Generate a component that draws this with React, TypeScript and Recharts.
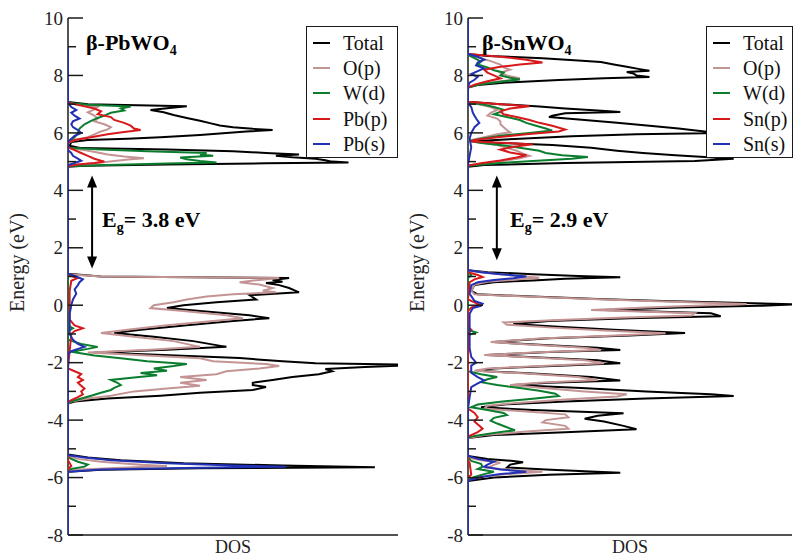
import { Legend, ReferenceLine, Scatter, ScatterChart, XAxis, YAxis } from "recharts";

// --- Data: [energy (eV), DOS (arb. units)] ---

const pbTotal: [number, number][] = [
  [9, 0], [7.08, 0], [7.0, 0.6], [6.93, 3.6], [6.86, 3.0], [6.8, 2.5], [6.72, 2.9], [6.62, 3.2],
  [6.52, 3.6], [6.42, 4.0], [6.34, 4.3], [6.26, 4.6], [6.2, 5.0], [6.14, 5.6], [6.1, 6.2], [6.05, 5.4],
  [5.98, 4.6], [5.93, 4.0], [5.85, 2.8], [5.8, 1.8], [5.75, 0.6], [5.68, 0.1], [5.55, 0.05], [5.47, 0.4],
  [5.42, 3.0], [5.36, 5.0], [5.3, 6.0], [5.25, 7.0], [5.2, 6.3], [5.15, 6.8], [5.1, 7.5], [5.05, 7.8],
  [5.0, 8.0], [4.97, 8.5], [4.94, 6.0], [4.9, 3.0], [4.86, 0.5], [4.82, 0],
  [1.1, 0], [1.0, 1.0], [0.95, 6.7], [0.88, 6.2], [0.82, 6.5], [0.77, 6.0], [0.7, 6.4], [0.6, 6.7],
  [0.5, 6.9], [0.45, 7.0], [0.35, 5.5], [0.2, 5.7], [0.1, 4.5], [0.0, 3.5], [-0.1, 3.0], [-0.2, 4.0],
  [-0.35, 5.5], [-0.45, 6.1], [-0.55, 5.0], [-0.7, 3.6], [-0.85, 2.2], [-0.97, 1.4], [-1.1, 2.6],
  [-1.25, 3.8], [-1.45, 4.8], [-1.55, 3.0], [-1.65, 0.8], [-1.72, 2.5], [-1.84, 5.2], [-1.95, 6.5],
  [-2.02, 7.5], [-2.08, 10.8], [-2.15, 9.0], [-2.22, 7.8], [-2.3, 8.0], [-2.4, 7.6], [-2.5, 6.8],
  [-2.6, 6.2], [-2.7, 5.6], [-2.78, 5.6], [-2.85, 6.0], [-2.95, 5.6], [-3.05, 4.0], [-3.15, 2.8],
  [-3.25, 1.2], [-3.35, 0.2], [-3.42, 0],
  [-5.2, 0], [-5.3, 0.6], [-5.4, 1.6], [-5.5, 3.5], [-5.58, 6.5], [-5.64, 9.3], [-5.68, 4.0],
  [-5.73, 1.0], [-5.8, 0], [-8, 0],
];

const pbOp: [number, number][] = [
  [9, 0], [7.05, 0], [6.98, 0.3], [6.9, 0.9], [6.82, 0.8], [6.72, 0.6], [6.6, 0.8], [6.5, 0.9],
  [6.4, 0.8], [6.3, 1.1], [6.2, 1.3], [6.12, 1.2], [6.05, 1.0], [5.95, 0.8], [5.85, 0.6], [5.75, 0.2],
  [5.65, 0], [5.47, 0], [5.4, 0.5], [5.32, 0.9], [5.25, 1.2], [5.18, 1.7], [5.12, 2.3], [5.08, 1.9],
  [5.02, 1.4], [4.95, 0.9], [4.9, 0.3], [4.84, 0],
  [1.08, 0], [1.0, 1.0], [0.95, 6.4], [0.88, 5.8], [0.8, 5.2], [0.72, 5.8], [0.6, 6.2], [0.5, 5.9],
  [0.45, 6.3], [0.38, 5.0], [0.3, 4.2], [0.2, 3.6], [0.1, 3.2], [0.0, 2.6], [-0.1, 2.5], [-0.2, 3.5],
  [-0.35, 4.8], [-0.45, 5.3], [-0.55, 4.4], [-0.7, 3.0], [-0.85, 1.8], [-0.97, 1.0], [-1.1, 2.0],
  [-1.25, 3.2], [-1.45, 4.0], [-1.55, 2.5], [-1.65, 0.6], [-1.75, 2.4], [-1.85, 4.0], [-1.95, 4.4],
  [-2.05, 6.0], [-2.12, 6.4], [-2.2, 5.8], [-2.3, 4.8], [-2.4, 4.5], [-2.5, 3.4], [-2.6, 4.2],
  [-2.7, 3.4], [-2.8, 4.0], [-2.9, 3.0], [-3.0, 2.0], [-3.15, 1.3], [-3.25, 0.6], [-3.35, 0.1],
  [-3.42, 0],
  [-5.25, 0], [-5.35, 0.3], [-5.45, 1.0], [-5.55, 2.2], [-5.6, 3.0], [-5.66, 1.6], [-5.72, 0.4],
  [-5.78, 0], [-8, 0],
];

const pbWd: [number, number][] = [
  [9, 0], [7.05, 0], [6.98, 0.6], [6.92, 1.9], [6.85, 1.6], [6.78, 1.7], [6.7, 1.3], [6.6, 1.1],
  [6.52, 0.9], [6.42, 0.7], [6.3, 0.5], [6.15, 0.35], [6.0, 0.3], [5.85, 0.2], [5.72, 0.05], [5.6, 0],
  [5.48, 0], [5.42, 1.0], [5.36, 2.4], [5.3, 4.2], [5.25, 4.0], [5.2, 4.4], [5.14, 3.4], [5.08, 3.6],
  [5.02, 4.0], [4.97, 4.5], [4.93, 3.0], [4.88, 1.2], [4.84, 0],
  [-0.7, 0], [-0.8, 0.15], [-0.9, 0],
  [-1.2, 0], [-1.35, 0.4], [-1.45, 0.9], [-1.52, 0.6], [-1.62, 0.1], [-1.75, 0.8], [-1.85, 1.6],
  [-1.95, 2.4], [-2.05, 3.6], [-2.12, 3.2], [-2.2, 2.6], [-2.28, 3.0], [-2.36, 2.2], [-2.44, 2.7],
  [-2.52, 2.0], [-2.6, 1.3], [-2.7, 1.5], [-2.78, 1.6], [-2.88, 1.4], [-2.95, 1.3], [-3.05, 1.0],
  [-3.15, 0.7], [-3.28, 0.3], [-3.38, 0],
  [-5.3, 0], [-5.45, 0.3], [-5.55, 0.6], [-5.62, 0.5], [-5.7, 0.1], [-5.75, 0], [-8, 0],
];

const pbPp: [number, number][] = [
  [9, 0], [7.05, 0], [6.95, 0.4], [6.85, 0.8], [6.75, 1.0], [6.65, 0.9], [6.55, 1.3], [6.45, 1.4],
  [6.35, 1.7], [6.25, 1.9], [6.15, 2.0], [6.1, 2.2], [6.03, 1.7], [5.95, 1.2], [5.85, 0.7], [5.75, 0.2],
  [5.65, 0], [5.5, 0], [5.4, 0.2], [5.3, 0.4], [5.2, 0.6], [5.1, 0.8], [5.0, 1.1], [4.95, 0.8],
  [4.9, 0.3], [4.84, 0],
  [1.05, 0], [0.95, 0.3], [0.85, 0.1], [0.5, 0.05], [-0.5, 0.05], [-0.7, 0.2], [-0.8, 0.45],
  [-0.9, 0.2], [-1.0, 0.1], [-2.2, 0], [-2.3, 0.2], [-2.4, 0.4], [-2.5, 0.3], [-2.6, 0.45],
  [-2.7, 0.3], [-2.8, 0.4], [-2.9, 0.5], [-3.0, 0.4], [-3.1, 0.45], [-3.2, 0.3], [-3.3, 0.1],
  [-3.38, 0],
  [-5.4, 0], [-5.6, 0.1], [-5.7, 0], [-8, 0],
];

const pbPs: [number, number][] = [
  [9, 0], [7.05, 0], [6.9, 0.1], [6.8, 0.25], [6.7, 0.1], [6.6, 0.2], [6.5, 0.35], [6.4, 0.15],
  [6.3, 0.1], [6.2, 0.15], [6.1, 0.3], [6.0, 0.4], [5.9, 0.2], [5.8, 0.1], [5.7, 0], [5.4, 0],
  [5.3, 0.1], [5.2, 0.15], [5.1, 0.3], [5.03, 0.4], [4.95, 0.2], [4.88, 0],
  [1.1, 0], [1.0, 0.25], [0.9, 0.45], [0.8, 0.35], [0.7, 0.3], [0.55, 0.2], [0.4, 0.25], [0.2, 0.15],
  [0.0, 0.1], [-0.3, 0.05], [-1.0, 0.05], [-1.2, 0.15], [-1.35, 0.3], [-1.45, 0.5], [-1.52, 0.3],
  [-1.6, 0.1], [-1.7, 0],
  [-5.22, 0], [-5.3, 0.5], [-5.4, 1.3], [-5.5, 3.0], [-5.58, 5.0], [-5.62, 6.6], [-5.67, 3.5],
  [-5.72, 1.0], [-5.8, 0], [-8, 0],
];

const snTotal: [number, number][] = [
  [10, 0], [8.75, 0], [8.68, 0.6], [8.6, 2.3], [8.52, 3.4], [8.47, 4.1], [8.38, 4.5], [8.3, 4.9],
  [8.22, 5.3], [8.16, 5.6], [8.12, 4.9], [8.07, 5.1], [8.0, 5.2], [7.95, 5.6], [7.9, 4.2], [7.84, 2.8],
  [7.75, 1.2], [7.67, 0.3], [7.58, 0],
  [7.08, 0], [7.0, 1.0], [6.92, 2.2], [6.85, 3.0], [6.78, 4.0], [6.73, 4.7], [6.68, 3.0], [6.6, 2.6],
  [6.55, 2.5], [6.45, 3.6], [6.35, 4.6], [6.25, 5.6], [6.15, 6.5], [6.05, 7.3], [6.0, 7.8], [5.95, 5.2],
  [5.88, 3.2], [5.8, 1.6], [5.72, 0.3], [5.66, 0.8], [5.58, 2.6], [5.48, 3.8], [5.38, 4.6], [5.3, 5.4],
  [5.22, 6.4], [5.16, 7.3], [5.1, 8.2], [5.02, 7.0], [4.95, 3.0], [4.88, 0.5], [4.82, 0],
  [1.22, 0], [1.15, 0.6], [1.08, 2.0], [1.02, 3.4], [0.97, 4.7], [0.92, 3.0], [0.86, 2.0], [0.8, 0.8],
  [0.7, 0.2], [0.5, 0.1], [0.38, 0.3], [0.3, 2.0], [0.22, 4.0], [0.15, 6.0], [0.08, 8.5], [0.03, 10.2],
  [-0.02, 9.0], [-0.08, 6.5], [-0.17, 4.2], [-0.28, 7.5], [-0.38, 7.8], [-0.45, 5.0], [-0.55, 2.5],
  [-0.65, 1.4], [-0.75, 2.8], [-0.85, 4.5], [-0.97, 6.7], [-1.05, 5.0], [-1.15, 2.5], [-1.28, 0.8],
  [-1.38, 2.2], [-1.48, 4.0], [-1.56, 4.7], [-1.63, 2.5], [-1.73, 0.6], [-1.82, 2.2], [-1.92, 4.0],
  [-2.02, 4.7], [-2.1, 3.0], [-2.2, 0.8], [-2.28, 0.3], [-2.38, 2.0], [-2.5, 3.8], [-2.62, 4.7],
  [-2.7, 2.5], [-2.78, 1.4], [-2.88, 3.5], [-3.0, 5.5], [-3.1, 7.5], [-3.16, 8.2], [-3.25, 5.5],
  [-3.35, 3.0], [-3.45, 1.2], [-3.55, 0.4], [-3.65, 2.0], [-3.76, 4.8], [-3.85, 4.0], [-3.95, 3.6],
  [-4.05, 4.2], [-4.2, 4.8], [-4.32, 5.2], [-4.42, 3.0], [-4.52, 0.8], [-4.62, 0],
  [-5.25, 0], [-5.35, 0.6], [-5.42, 1.4], [-5.47, 1.7], [-5.55, 1.3], [-5.65, 1.2], [-5.72, 2.4],
  [-5.78, 3.6], [-5.83, 4.7], [-5.9, 2.5], [-6.0, 0.8], [-6.12, 0], [-8, 0],
];

const snOp: [number, number][] = [
  [10, 0], [8.72, 0], [8.6, 0.4], [8.5, 0.7], [8.38, 1.0], [8.28, 1.1], [8.2, 1.3], [8.1, 1.0],
  [8.0, 1.2], [7.9, 1.6], [7.82, 1.2], [7.72, 0.4], [7.6, 0],
  [7.06, 0], [6.98, 0.4], [6.9, 0.7], [6.8, 0.9], [6.7, 0.7], [6.6, 0.6], [6.5, 0.9], [6.4, 1.0],
  [6.3, 1.0], [6.2, 1.1], [6.1, 1.2], [6.02, 1.3], [5.95, 0.9], [5.85, 0.5], [5.75, 0.1], [5.68, 0.3],
  [5.58, 0.9], [5.48, 1.2], [5.38, 1.5], [5.28, 1.7], [5.2, 1.9], [5.12, 1.6], [5.02, 1.1],
  [4.95, 0.6], [4.86, 0],
  [1.2, 0], [1.1, 0.8], [1.02, 1.6], [0.96, 2.2], [0.9, 1.6], [0.82, 0.6], [0.72, 0.2], [0.5, 0.1],
  [0.38, 0.2], [0.3, 1.8], [0.22, 3.8], [0.15, 5.6], [0.08, 7.6], [0.04, 8.6], [-0.02, 7.0],
  [-0.08, 5.5], [-0.17, 3.8], [-0.28, 7.0], [-0.36, 6.9], [-0.44, 4.6], [-0.52, 2.6], [-0.6, 1.1],
  [-0.68, 1.2], [-0.78, 2.6], [-0.88, 4.2], [-0.98, 6.1], [-1.06, 4.4], [-1.16, 2.2], [-1.28, 0.7],
  [-1.38, 2.0], [-1.48, 3.6], [-1.56, 4.1], [-1.64, 2.2], [-1.73, 0.5], [-1.82, 2.0], [-1.92, 3.6],
  [-2.02, 4.2], [-2.1, 2.6], [-2.2, 0.6], [-2.28, 0.2], [-2.38, 1.8], [-2.5, 3.4], [-2.6, 4.0],
  [-2.7, 2.2], [-2.78, 1.3], [-2.9, 2.5], [-3.0, 3.6], [-3.1, 4.9], [-3.18, 4.6], [-3.28, 3.0],
  [-3.4, 1.5], [-3.5, 0.6], [-3.6, 0.5], [-3.7, 1.8], [-3.8, 3.0], [-3.9, 3.1], [-4.0, 2.4],
  [-4.08, 2.3], [-4.2, 3.0], [-4.3, 3.1], [-4.4, 1.8], [-4.52, 0.5], [-4.62, 0],
  [-5.3, 0], [-5.4, 0.4], [-5.48, 1.0], [-5.56, 0.8], [-5.66, 0.6], [-5.74, 1.4], [-5.8, 2.3],
  [-5.88, 1.2], [-5.98, 0.4], [-6.08, 0], [-8, 0],
];

const snWd: [number, number][] = [
  [10, 0], [8.72, 0], [8.6, 0.2], [8.48, 0.4], [8.38, 0.3], [8.28, 0.6], [8.18, 0.8], [8.1, 1.1],
  [8.0, 1.0], [7.92, 1.3], [7.86, 1.6], [7.78, 1.0], [7.68, 0.3], [7.58, 0],
  [7.06, 0], [6.98, 0.5], [6.9, 0.8], [6.8, 1.1], [6.73, 1.0], [6.65, 0.8], [6.55, 1.2], [6.45, 1.6],
  [6.35, 1.8], [6.25, 2.1], [6.15, 2.4], [6.08, 2.6], [6.0, 1.9], [5.9, 1.0], [5.8, 0.4], [5.72, 0.05],
  [5.65, 0.4], [5.55, 1.2], [5.45, 1.8], [5.38, 2.2], [5.3, 2.4], [5.22, 2.9], [5.16, 3.7], [5.1, 3.2],
  [5.02, 2.0], [4.95, 1.0], [4.86, 0],
  [1.15, 0], [1.05, 0.1], [0.95, 0], [-0.85, 0], [-0.95, 0.25], [-1.05, 0],
  [-2.3, 0], [-2.4, 0.4], [-2.5, 0.9], [-2.58, 0.6], [-2.68, 0.4], [-2.78, 0.9], [-2.88, 1.6],
  [-2.98, 2.2], [-3.08, 2.7], [-3.16, 2.8], [-3.26, 2.0], [-3.36, 1.0], [-3.46, 0.3], [-3.55, 0.1],
  [-3.65, 0.6], [-3.75, 1.1], [-3.82, 1.2], [-3.92, 0.8], [-4.02, 0.7], [-4.12, 0.9], [-4.25, 1.2],
  [-4.35, 1.45], [-4.45, 0.8], [-4.55, 0.2], [-4.62, 0],
  [-5.3, 0], [-5.42, 0.1], [-5.52, 0.4], [-5.62, 0.45], [-5.7, 0.3], [-5.8, 0.8], [-5.88, 0.5],
  [-5.98, 0.2], [-6.08, 0], [-8, 0],
];

const snSp: [number, number][] = [
  [10, 0], [8.75, 0], [8.65, 1.0], [8.55, 1.8], [8.45, 2.3], [8.38, 1.6], [8.3, 1.0], [8.2, 0.5],
  [8.1, 0.6], [8.0, 0.8], [7.9, 1.0], [7.8, 0.6], [7.68, 0.2], [7.58, 0],
  [7.08, 0], [7.0, 1.0], [6.93, 1.9], [6.85, 1.3], [6.75, 1.0], [6.65, 1.1], [6.55, 1.5], [6.45, 1.9],
  [6.35, 2.2], [6.25, 2.6], [6.12, 3.0], [6.05, 2.8], [5.95, 1.8], [5.85, 0.9], [5.75, 0.2], [5.7, 0.1],
  [5.65, 1.2], [5.6, 2.0], [5.52, 1.4], [5.42, 1.0], [5.32, 1.3], [5.22, 1.8], [5.14, 1.5], [5.04, 1.0],
  [4.94, 0.4], [4.86, 0],
  [1.15, 0], [1.05, 0.3], [0.98, 0.45], [0.9, 0.2], [0.8, 0.05], [0.2, 0], [0.1, 0.2], [0.02, 0.35],
  [-0.08, 0.1], [-0.2, 0], [-0.75, 0], [-0.85, 0.1], [-0.95, 0],
  [-3.6, 0], [-3.75, 0.2], [-3.9, 0.3], [-4.05, 0.2], [-4.2, 0.35], [-4.3, 0.45], [-4.42, 0.3],
  [-4.55, 0.05], [-4.62, 0],
  [-5.4, 0], [-5.5, 0.05], [-5.9, 0.1], [-6.0, 0], [-8, 0],
];

const snSs: [number, number][] = [
  [10, 0], [8.75, 0], [8.65, 0.3], [8.55, 0.5], [8.45, 0.3], [8.35, 0.25], [8.25, 0.5], [8.15, 0.3],
  [8.05, 0.1], [7.95, 0.3], [7.85, 0.2], [7.75, 0.05], [7.6, 0],
  [7.05, 0], [6.9, 0.1], [6.7, 0.15], [6.5, 0.25], [6.35, 0.35], [6.2, 0.2], [6.0, 0.1], [5.8, 0.05],
  [5.5, 0.1], [5.2, 0.05], [4.9, 0],
  [1.22, 0], [1.15, 0.4], [1.08, 1.0], [1.0, 1.8], [0.94, 1.4], [0.88, 0.8], [0.8, 0.3], [0.7, 0.1],
  [0.4, 0.05], [0.15, 0.2], [0.05, 0.45], [-0.02, 0.4], [-0.1, 0.15], [-0.3, 0.05], [-1.5, 0.05],
  [-1.8, 0.1], [-2.0, 0.25], [-2.1, 0.1], [-2.35, 0.1], [-2.5, 0.3], [-2.62, 0.5], [-2.72, 0.3],
  [-2.85, 0.1], [-3.2, 0.05], [-3.6, 0],
  [-5.25, 0], [-5.35, 0.3], [-5.45, 0.8], [-5.55, 0.6], [-5.62, 0.5], [-5.72, 1.0], [-5.8, 1.8],
  [-5.88, 1.0], [-5.98, 0.4], [-6.1, 0], [-8, 0],
];

const pbNames = ["Total", "O(p)", "W(d)", "Pb(p)", "Pb(s)"];
const snNames = ["Total", "O(p)", "W(d)", "Sn(p)", "Sn(s)"];
const seriesColors = ["#000000", "#c49494", "#0b7d2e", "#d7191c", "#2231b3"];
const energyTicks = [-8, -7, -6, -5, -4, -3, -2, -1, 0, 1, 2, 3, 4, 5, 6, 7, 8, 9, 10];

// gap arrows: [DOS position, upper energy, lower energy]
const pbGap = [0.73, 4.52, 1.28];
const snGap = [0.89, 4.52, 1.57];

const FONT = "'Liberation Serif', 'Times New Roman', serif";
const AXIS = { stroke: "#1a1a1a", strokeWidth: 1.5 };

const toPoints = (rows: [number, number][]) => rows.map(([e, d]) => ({ x: d, y: e }));

const noSymbol = () => <g />;

const LeftTick = (props: any) => {
  const { x, y, payload } = props;
  const v = payload.value;
  const ax = x + 5;
  const major = v % 2 === 0;
  return (
    <g>
      <line x1={ax} x2={ax + (major ? 15 : 8)} y1={y} y2={y} stroke="#1a1a1a" strokeWidth={1.5} />
      {major && (
        <text x={x} y={y} dy="0.35em" textAnchor="end" fill="#222" style={{ fontFamily: FONT, fontSize: 19 }}>
          {v}
        </text>
      )}
    </g>
  );
};

const RightTick = (props: any) => {
  const { x, y, payload } = props;
  const ax = x - 5;
  const len = payload.value % 2 === 0 ? 15 : 8;
  return <line x1={ax - len} x2={ax} y1={y} y2={y} stroke="#1a1a1a" strokeWidth={1.5} />;
};

const EnergyLabel = (props: any) => {
  const vb = props.viewBox || { x: 0, y: 18, width: 68, height: 517 };
  const cx = vb.x + 17;
  const cy = vb.y + vb.height / 2 - 14;
  return (
    <text
      x={cx}
      y={cy}
      transform={`rotate(-90, ${cx}, ${cy})`}
      textAnchor="middle"
      dominantBaseline="central"
      fill="#222"
      style={{ fontFamily: FONT, fontSize: 20 }}
    >
      Energy (eV)
    </text>
  );
};

const DosLabel = (props: any) => {
  const vb = props.viewBox || { x: 68, y: 535, width: 330, height: 22 };
  return (
    <text
      x={vb.x + vb.width / 2}
      y={vb.y + 18}
      textAnchor="middle"
      fill="#222"
      style={{ fontFamily: FONT, fontSize: 18 }}
    >
      DOS
    </text>
  );
};

const GapArrow = (props: any) => {
  const { x1, y1, y2 } = props;
  const top = Math.min(y1, y2);
  const bot = Math.max(y1, y2);
  return (
    <g>
      <line x1={x1} x2={x1} y1={top + 8} y2={bot - 8} stroke="#000" strokeWidth={2} />
      <polygon points={`${x1},${top} ${x1 - 5},${top + 12} ${x1 + 5},${top + 12}`} fill="#000" />
      <polygon points={`${x1},${bot} ${x1 - 5},${bot - 12} ${x1 + 5},${bot - 12}`} fill="#000" />
    </g>
  );
};

const LegendBox = ({ names, boxWidth }: { names: string[]; boxWidth: number }) => (
  <div
    style={{
      boxSizing: "border-box",
      width: boxWidth,
      height: 132,
      border: "1.5px solid #1a1a1a",
      background: "#fff",
      padding: "3px 0 0 6px",
      fontFamily: FONT,
      fontSize: 20,
      color: "#111",
    }}
  >
    {names.map((name, i) => (
      <div key={name} style={{ display: "flex", alignItems: "center", height: 25.3 }}>
        <span style={{ width: 17, height: 2, background: seriesColors[i], marginRight: 13 }} />
        <span style={{ lineHeight: 1 }}>{name}</span>
      </div>
    ))}
  </div>
);

interface PanelProps {
  width: number;
  rightMargin: number;
  names: string[];
  series: [number, number][][];
  gap: number[];
  legendWidth: number;
}

function DosPanel({ width, rightMargin, names, series, gap, legendWidth }: PanelProps) {
  return (
    <ScatterChart width={width} height={557} margin={{ top: 18, right: rightMargin, bottom: 0, left: 0 }}>
      <XAxis
        type="number"
        dataKey="x"
        domain={[0, 10]}
        allowDataOverflow
        tick={false}
        tickLine={false}
        height={22}
        axisLine={AXIS}
        label={{ content: DosLabel }}
      />
      <XAxis
        xAxisId="top"
        orientation="top"
        type="number"
        domain={[0, 10]}
        allowDataOverflow
        height={0}
        tick={false}
        tickLine={false}
        axisLine={AXIS}
      />
      <YAxis
        type="number"
        dataKey="y"
        domain={[-8, 10]}
        allowDataOverflow
        ticks={energyTicks}
        interval={0}
        width={68}
        tickSize={0}
        tickMargin={5}
        tickLine={false}
        axisLine={AXIS}
        tick={LeftTick}
        label={{ content: EnergyLabel }}
      />
      <YAxis
        yAxisId="right"
        orientation="right"
        type="number"
        domain={[-8, 10]}
        allowDataOverflow
        ticks={energyTicks}
        interval={0}
        width={0}
        tickSize={0}
        tickMargin={5}
        tickLine={false}
        axisLine={AXIS}
        tick={RightTick}
      />
      {series.map((rows, i) => (
        <Scatter
          key={names[i]}
          name={names[i]}
          data={toPoints(rows)}
          fill={seriesColors[i]}
          line={{ stroke: seriesColors[i], strokeWidth: 2 }}
          shape={noSymbol}
          isAnimationActive={false}
        />
      ))}
      <ReferenceLine
        segment={[
          { x: gap[0], y: gap[1] },
          { x: gap[0], y: gap[2] },
        ]}
        shape={GapArrow}
      />
      <Legend
        layout="vertical"
        align="center"
        verticalAlign="middle"
        width={legendWidth}
        height={132}
        wrapperStyle={{ left: 306, top: 26 }}
        content={() => <LegendBox names={names} boxWidth={legendWidth} />}
      />
    </ScatterChart>
  );
}

const titleStyle: React.CSSProperties = {
  position: "absolute",
  fontFamily: FONT,
  fontWeight: "bold",
  fontSize: 22,
  lineHeight: "22px",
  color: "#000",
  whiteSpace: "nowrap",
};

const subStyle: React.CSSProperties = { fontSize: 14, verticalAlign: "-5px" };

export default function App() {
  return (
    <div
      style={{
        position: "absolute",
        left: 0,
        top: 0,
        width: 793,
        height: 557,
        background: "#fff",
        overflow: "hidden",
        fontFamily: FONT,
      }}
    >
      <div style={{ position: "absolute", left: 0, top: 0 }}>
        <DosPanel
          width={400}
          rightMargin={2}
          names={pbNames}
          series={[pbTotal, pbOp, pbWd, pbPp, pbPs]}
          gap={pbGap}
          legendWidth={92}
        />
      </div>
      <div style={{ position: "absolute", left: 400, top: 0 }}>
        <DosPanel
          width={393}
          rightMargin={1}
          names={snNames}
          series={[snTotal, snOp, snWd, snSp, snSs]}
          gap={snGap}
          legendWidth={87}
        />
      </div>
      <div style={{ ...titleStyle, left: 86, top: 32 }}>
        β-PbWO<span style={subStyle}>4</span>
      </div>
      <div style={{ ...titleStyle, left: 482, top: 32 }}>
        β-SnWO<span style={subStyle}>4</span>
      </div>
      <div style={{ ...titleStyle, left: 102, top: 209 }}>
        E<span style={subStyle}>g</span>= 3.8 eV
      </div>
      <div style={{ ...titleStyle, left: 510, top: 209 }}>
        E<span style={subStyle}>g</span>= 2.9 eV
      </div>
    </div>
  );
}
